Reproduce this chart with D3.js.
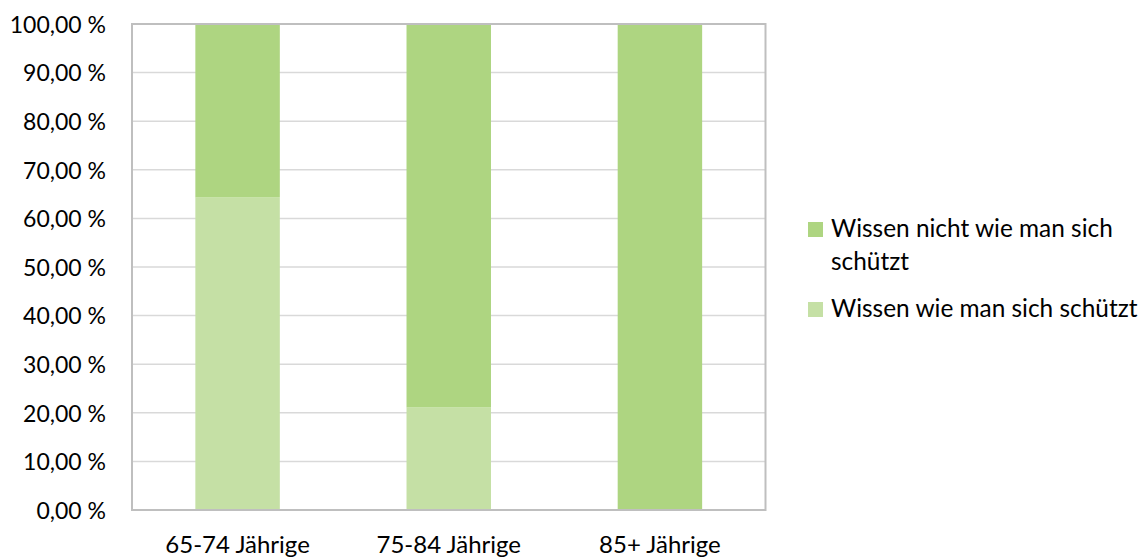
<!DOCTYPE html>
<html><head><meta charset="utf-8">
<script src="https://cdn.jsdelivr.net/npm/d3@7/dist/d3.min.js"></script>
<style>body{margin:0;background:#fff}svg{display:block}text{font-family:Lato,"Open Sans",sans-serif;fill:#000}</style>
</head><body><svg id="c" width="1146" height="559"></svg>
<script>
const categories = ["65-74 Jährige", "75-84 Jährige", "85+ Jährige"];
const seriesNames = ["Wissen wie man sich schützt", "Wissen nicht wie man sich schützt"];
const wissen = [64.3, 21.1, 0];
const wissenNicht = [35.7, 78.9, 100];
const yTicks = [0,10,20,30,40,50,60,70,80,90,100];
const colors = ["#C5E0A5", "#AED581"];

const svg = d3.select("#c");
const m = {l:132, r:765.5, t:24, b:510};
const x = d3.scaleBand().domain(categories).range([m.l, m.r]).paddingInner(0.6).paddingOuter(0.3);
const y = d3.scaleLinear().domain([0,100]).range([m.b, m.t]);
const fmt = v => v.toFixed(2).replace(".", ",") + " %";

// gridlines
svg.append("g").selectAll("line").data(yTicks.slice(1,-1)).join("line")
  .attr("x1", m.l).attr("x2", m.r).attr("y1", d=>y(d)).attr("y2", d=>y(d))
  .attr("stroke", "#d9d9d9").attr("stroke-width", 1.5);

// stacked bars
const data = categories.map((c,i)=>({cat:c, s0:wissen[i], s1:wissenNicht[i]}));
const stack = d3.stack().keys(["s0","s1"])(data);
svg.append("g").selectAll("g").data(stack).join("g").attr("fill", (d,i)=>colors[i])
  .selectAll("rect").data(d=>d).join("rect")
  .attr("x", d=>x(d.data.cat)).attr("width", x.bandwidth())
  .attr("y", d=>y(d[1])).attr("height", d=>y(d[0])-y(d[1]));

// border
svg.append("rect").attr("x", m.l).attr("y", m.t).attr("width", m.r-m.l).attr("height", m.b-m.t)
  .attr("fill","none").attr("stroke","#bfbfbf").attr("stroke-width",2);

// y axis
const ya = svg.append("g").attr("transform", `translate(${m.l-26},0)`)
  .call(d3.axisLeft(y).tickValues(yTicks).tickFormat(fmt).tickSize(0).tickPadding(0));
ya.select(".domain").remove();
ya.selectAll("text").style("font-size","23px").attr("dy","0.36em");

// x axis
const xa = svg.append("g").attr("transform", `translate(0,${m.b})`)
  .call(d3.axisBottom(x).tickSize(0).tickPadding(0));
xa.select(".domain").remove();
xa.selectAll("text").style("font-size","24px").attr("dy",null).attr("y",43);

// legend
const leg = [
  {name:"Wissen nicht wie man sich", line2:"schützt", color:colors[1], y:237},
  {name:"Wissen wie man sich schützt", line2:null, color:colors[0], y:317}
];
const lg = svg.append("g");
leg.forEach(d=>{
  lg.append("rect").attr("x",808).attr("y",d.y-15).attr("width",15).attr("height",15).attr("fill",d.color);
  lg.append("text").attr("x",831).attr("y",d.y).style("font-size","24.4px").text(d.name);
  if(d.line2) lg.append("text").attr("x",831).attr("y",d.y+33).style("font-size","24.4px").text(d.line2);
});
</script></body></html>
